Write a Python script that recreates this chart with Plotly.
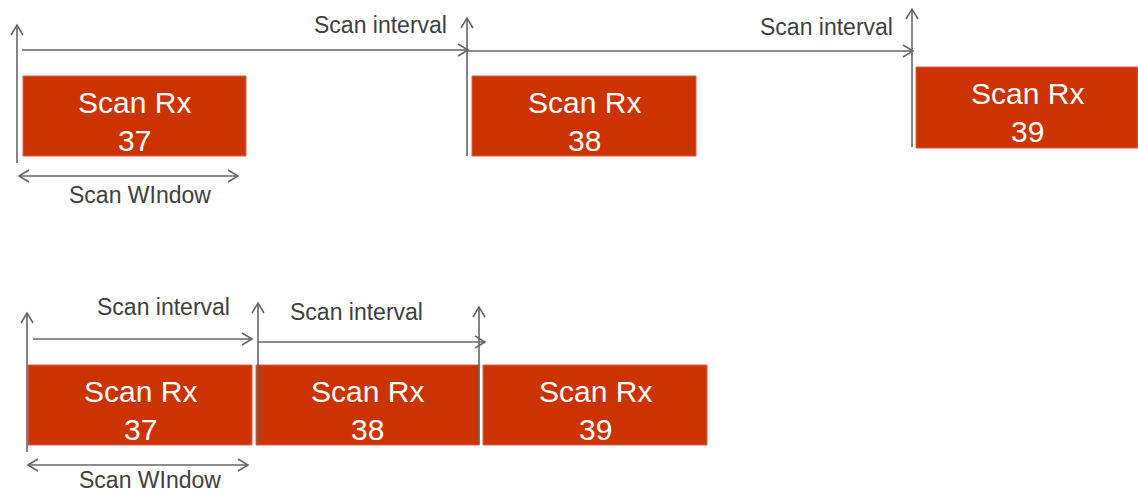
import math
import plotly.graph_objects as go

W, H = 1138, 494

# ---- data (diagram coordinates in pixels, y downward) ----
top_labels = ["37", "38", "39"]
top_start = [23, 472, 916]
top_end = [246, 696, 1138]
top_y0 = [76, 76, 67]
top_y1 = [156, 156, 148]

bot_labels = ["37", "38", "39"]
bot_start = [28, 256, 483]
bot_end = [252, 479, 707]
bot_y0 = [365, 365, 365]
bot_y1 = [445, 445, 445]

# arrows: x0, y0, x1 (head), y1 (head), double-headed
arrow_x0 = [17, 22, 467, 467, 912, 19, 27, 33, 258, 258, 479, 28]
arrow_y0 = [163, 50, 156, 51, 147, 176, 452, 339, 445, 342, 445, 465]
arrow_x1 = [17, 468, 467, 913, 912, 238, 27, 252, 258, 485, 479, 248]
arrow_y1 = [25, 50, 18, 51, 9, 176, 313, 339, 303, 342, 307, 465]
arrow_both = [False, False, False, False, False, True, False, False, False, False, False, True]

note_texts = ["Scan interval", "Scan interval", "Scan WIndow",
              "Scan interval", "Scan interval", "Scan WIndow"]
note_x = [380, 826, 140, 163, 356, 150]
note_y = [25, 27, 195, 307, 312, 480]

BOX_COLOR = "#CC3300"
LINE_COLOR = "#666666"
TEXT_COLOR = "#404040"
FONT = "Liberation Sans, Arial, sans-serif"

fig = go.Figure()
shapes = []
annotations = []


def add_boxes(labels, xs0, xs1, ys0, ys1):
    for lab, a, b, c, d in zip(labels, xs0, xs1, ys0, ys1):
        shapes.append(dict(type="rect", x0=a, x1=b, y0=c, y1=d,
                           fillcolor=BOX_COLOR, line=dict(color="#E06040", width=1),
                           layer="below"))
        cx = (a + b) / 2
        annotations.append(dict(x=cx, y=c + 26, text="Scan Rx", showarrow=False,
                                xanchor="center", yanchor="middle",
                                font=dict(family=FONT, size=30, color="white")))
        annotations.append(dict(x=cx, y=c + 64, text=lab, showarrow=False,
                                xanchor="center", yanchor="middle",
                                font=dict(family=FONT, size=30, color="white")))


add_boxes(top_labels, top_start, top_end, top_y0, top_y1)
add_boxes(bot_labels, bot_start, bot_end, bot_y0, bot_y1)


def head(tx, ty, fx, fy, L=10, hw=6):
    dx, dy = tx - fx, ty - fy
    n = math.hypot(dx, dy)
    ux, uy = dx / n, dy / n
    px, py = -uy, ux
    bx, by = tx - L * ux, ty - L * uy
    return (f"M {bx + hw * px},{by + hw * py} L {tx},{ty} "
            f"L {bx - hw * px},{by - hw * py}")


for x0, y0, x1, y1, both in zip(arrow_x0, arrow_y0, arrow_x1, arrow_y1, arrow_both):
    ln = dict(color=LINE_COLOR, width=1.6)
    shapes.append(dict(type="line", x0=x0, y0=y0, x1=x1, y1=y1, line=ln))
    shapes.append(dict(type="path", path=head(x1, y1, x0, y0), line=ln))
    if both:
        shapes.append(dict(type="path", path=head(x0, y0, x1, y1), line=ln))

for t, x, y in zip(note_texts, note_x, note_y):
    annotations.append(dict(x=x, y=y, text=t, showarrow=False,
                            xanchor="center", yanchor="middle",
                            font=dict(family=FONT, size=23, color=TEXT_COLOR)))

fig.update_layout(
    width=W, height=H, margin=dict(l=0, r=0, t=0, b=0),
    paper_bgcolor="white", plot_bgcolor="white",
    xaxis=dict(range=[0, W], visible=False, fixedrange=True),
    yaxis=dict(range=[H, 0], visible=False, fixedrange=True),
    shapes=shapes, annotations=annotations, showlegend=False,
)

fig.write_html("out.html", config={"displayModeBar": False},
               post_script="document.body.style.margin='0';document.body.style.overflow='hidden';")
